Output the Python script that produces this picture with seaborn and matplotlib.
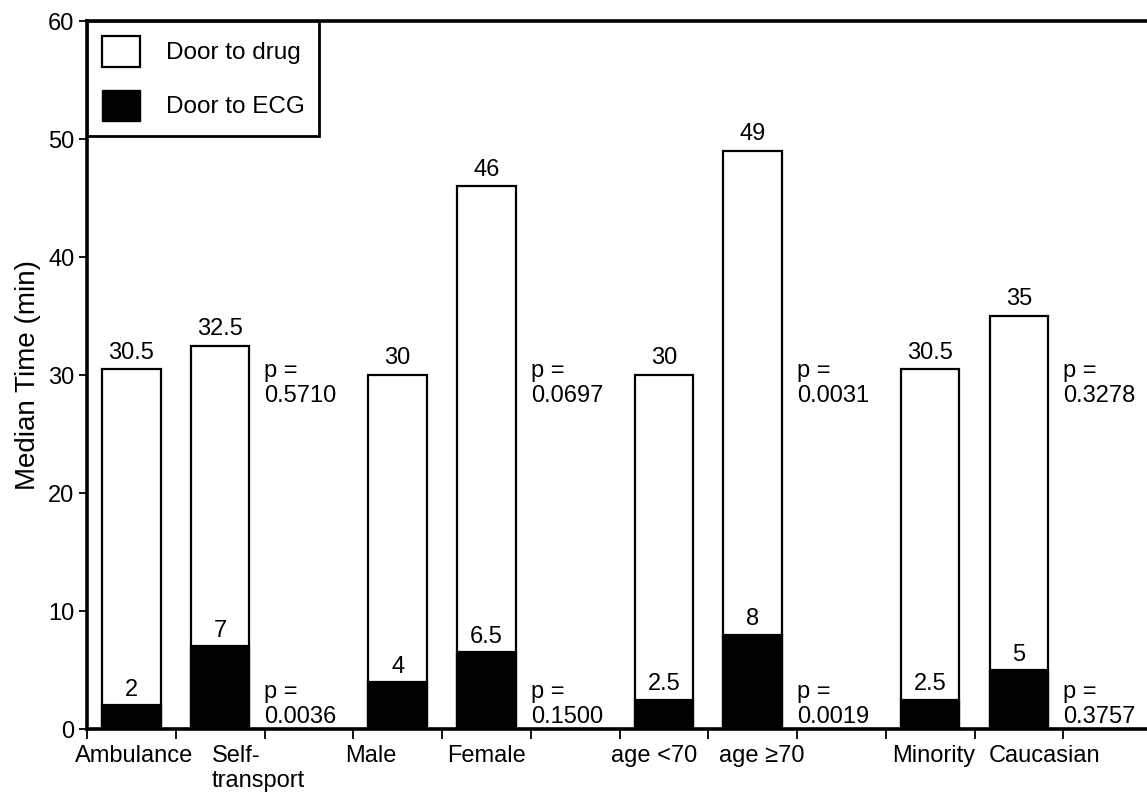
import numpy as np
import pandas as pd
import seaborn as sns
import matplotlib.pyplot as plt
from matplotlib.patches import Patch
from matplotlib.transforms import ScaledTranslation

# data
groups = ["Ambulance", "Self-\ntransport", "Male", "Female",
          "age <70", "age \u226570", "Minority", "Caucasian"]
door_to_drug = [30.5, 32.5, 30, 46, 30, 49, 30.5, 35]
door_to_ecg = [2, 7, 4, 6.5, 2.5, 8, 2.5, 5]
drug_labels = ["30.5", "32.5", "30", "46", "30", "49", "30.5", "35"]
ecg_labels = ["2", "7", "4", "6.5", "2.5", "8", "2.5", "5"]
p_drug = ["0.5710", "0.0697", "0.0031", "0.3278"]
p_ecg = ["0.0036", "0.1500", "0.0019", "0.3757"]

# label nudges (px) so tick text sits like in the original figure
label_shift = [3, 38, -27, 0, -10, 9, 4, 26]

df = pd.DataFrame({"group": groups, "drug": door_to_drug, "ecg": door_to_ecg})

# two bars per pair, then an empty slot holding the p-values
order = []
gaps = []
for i in range(0, len(groups), 2):
    gap = f"gap{i // 2}"
    order += [groups[i], groups[i + 1], gap]
    gaps.append(gap)

sns.set_style("ticks")
plt.rcParams["font.family"] = ["Liberation Sans", "DejaVu Sans"]
plt.rcParams.update({"text.color": "black", "axes.labelcolor": "black",
                     "xtick.color": "black", "ytick.color": "black"})

fig = plt.figure(figsize=(11.47, 8.02), dpi=100)
ax = fig.add_axes([87 / 1147, 73 / 802, 1065 / 1147, 708 / 802])

sns.barplot(data=df, x="group", y="drug", order=order, color="white",
            saturation=1, edgecolor="black", linewidth=1.6, width=0.66,
            errorbar=None, ax=ax)
sns.barplot(data=df, x="group", y="ecg", order=order, color="black",
            saturation=1, edgecolor="black", linewidth=1.6, width=0.66,
            errorbar=None, ax=ax)

ax.bar_label(ax.containers[0], labels=drug_labels, padding=4, fontsize=17)
ax.bar_label(ax.containers[1], labels=ecg_labels, padding=3, fontsize=17)

# p-values in the empty slots
for gap, pd_, pe in zip(gaps, p_drug, p_ecg):
    xg = order.index(gap) - 0.5
    ax.text(xg, 31.3, "p =\n" + pd_, ha="left", va="top", fontsize=17)
    ax.text(xg, 0.05, "p =\n" + pe, ha="left", va="bottom", fontsize=17)

ax.set_xlim(-0.5, len(order) - 0.5)
ax.set_ylim(0, 60)
ax.set_yticks(range(0, 61, 10))
ax.tick_params(axis="y", labelsize=17, length=6, width=1.3, pad=3)

# tick marks between slots, labels drawn as text under each bar
ax.set_xticks(np.arange(-0.5, len(order), 1))
ax.set_xticklabels([])
ax.tick_params(axis="x", length=7, width=1.3)
ax.set_xlabel("")
for g, s in zip(groups, label_shift):
    tr = ax.get_xaxis_transform() + ScaledTranslation(s / 100, -16 / 100, fig.dpi_scale_trans)
    ax.text(order.index(g), 0, g, transform=tr, ha="center", va="top",
            multialignment="left", fontsize=17, clip_on=False)

ax.set_ylabel("Median Time (min)", fontsize=20, labelpad=5)

for side in ["left", "bottom", "top"]:
    ax.spines[side].set_linewidth(2.6)
    ax.spines[side].set_color("black")
ax.spines["right"].set_visible(False)

handles = [Patch(facecolor="white", edgecolor="black", linewidth=1.6),
           Patch(facecolor="black", edgecolor="black")]
leg = ax.legend(handles, ["Door to drug", "Door to ECG"], loc="upper left",
                bbox_to_anchor=(0, 1), borderaxespad=0, fontsize=17.5,
                handlelength=1.6, handleheight=1.6, labelspacing=0.95,
                handletextpad=1.05, borderpad=0.6, fancybox=False,
                framealpha=1, edgecolor="black")
leg.get_frame().set_linewidth(2)

fig.savefig("out.png", dpi=100)
